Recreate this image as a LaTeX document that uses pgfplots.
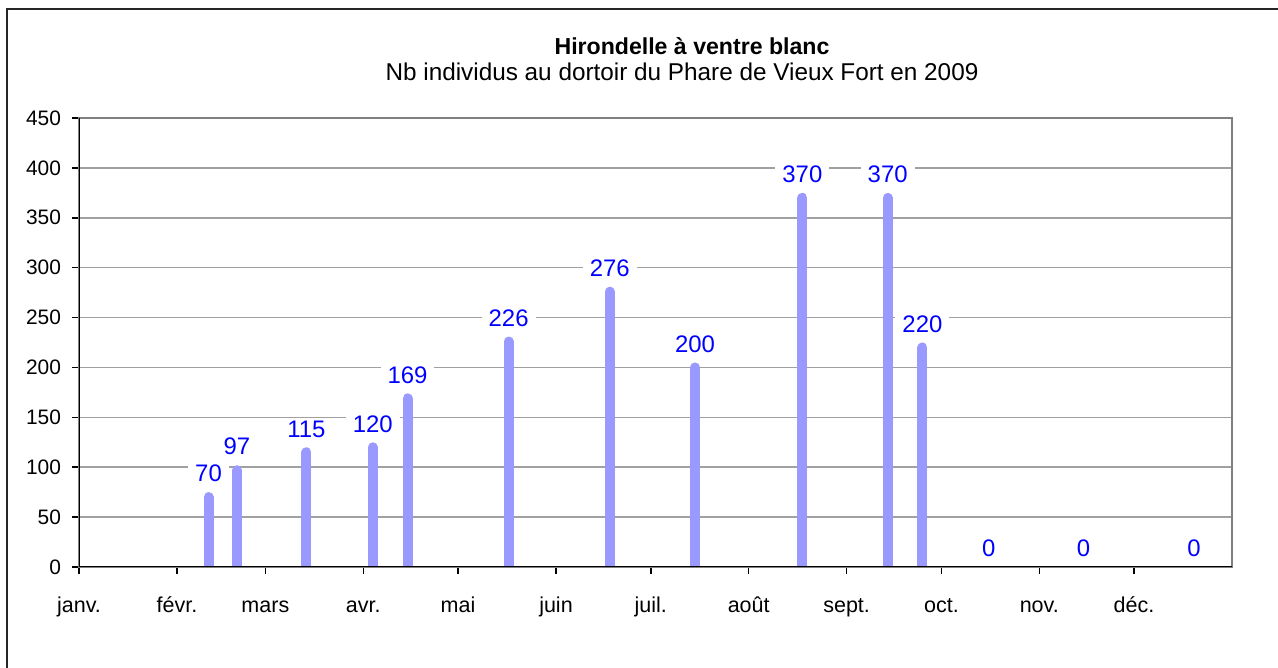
\documentclass[border=0pt]{standalone}
\usepackage{fontspec}
\setmainfont{Liberation Sans}
\usepackage{pgfplots}
\pgfplotsset{compat=1.18}
\definecolor{barcol}{RGB}{153,153,255}
\definecolor{gridcol}{RGB}{160,160,160}
\definecolor{framecol}{RGB}{128,128,128}

% day of year (1 Jan = 0), number of birds
\pgfplotstableread{
day  n
41   70
50   97
72   115
93   120
104  169
136  226
168  276
195  200
229  370
256  370
267  220
}\counts
\pgfplotstableread{
day  n
288  0
318  0
353  0
}\zeros

\begin{document}
\begin{tikzpicture}
\useasboundingbox (0bp,0bp) rectangle (639bp,334bp);
\draw[line width=1bp,black!85] (3.5bp,0bp) -- (3.5bp,329.5bp) -- (639bp,329.5bp);
\node[font=\fontsize{11.6}{13}\selectfont\bfseries] at (346bp,311bp) {Hirondelle à ventre blanc};
\node[font=\fontsize{12.2}{14}\selectfont] at (341bp,298bp) {Nb individus au dortoir du Phare de Vieux Fort en 2009};
\begin{axis}[
    at={(39.5bp,50.5bp)}, anchor=south west,
    scale only axis,
    width=576.5bp, height=224.5bp,
    xmin=0, xmax=365,
    ymin=0, ymax=450,
    ytick={0,50,...,450},
    xtick={0,31,59,90,120,151,181,212,243,273,304,334},
    xticklabels={janv.,févr.,mars,avr.,mai,juin,juil.,août,sept.,oct.,nov.,déc.},
    tick pos=left,
    tick align=outside,
    major tick length=3.5bp,
    tick style={black, line width=0.8bp},
    axis line style={framecol, line width=1bp},
    ymajorgrids,
    major grid style={gridcol, line width=0.75bp},
    yticklabel style={font=\fontsize{10.5}{12}\selectfont, xshift=-2bp},
    /pgf/number format/assume math mode=true,
    xticklabel style={font=\fontsize{10.8}{12}\selectfont, yshift=-7.5bp,
        text height=8bp, text depth=2bp},
    nodes near coords,
    nodes near coords style={font=\fontsize{12}{14}\selectfont, text=blue,
        fill=white, inner xsep=3.5bp, inner ysep=1bp, anchor=south, yshift=4bp},
]
\addplot[ycomb, barcol, line width=5bp, line cap=round, mark=none]
    table[x=day, y=n] {\counts};
\addplot[only marks, mark=none, draw=none]
    table[x=day, y=n] {\zeros};
\draw[black, line width=1bp] (rel axis cs:0,1) -- (rel axis cs:0,0) -- (rel axis cs:1,0);
\end{axis}
\end{tikzpicture}
\end{document}
